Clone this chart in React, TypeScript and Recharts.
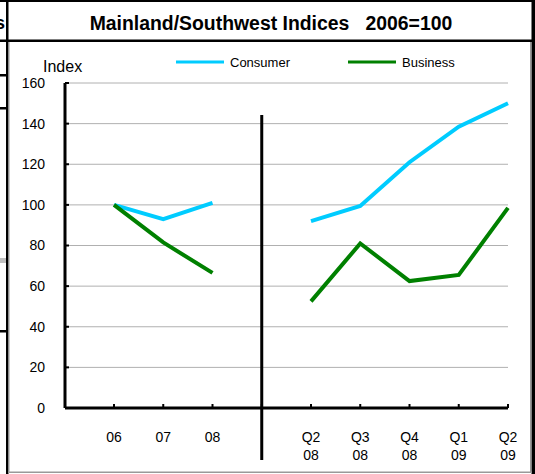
import React from 'react';
import { LineChart, Line, XAxis, YAxis, CartesianGrid, ReferenceLine } from 'recharts';

const SEP = '|';
const categories = ['06', '07', '08', SEP, 'Q2 08', 'Q3 08', 'Q4 08', 'Q1 09', 'Q2 09'];
const consumer = [100, 93, 101, null, 92, 99.5, 121, 138.5, 150];
const business = [100, 81.5, 66.5, null, 52.5, 81, 62.5, 65.5, 98.5];
const yTicks = [0, 20, 40, 60, 80, 100, 120, 140, 160];
const TITLE = 'Mainland/Southwest Indices   2006=100';
const Y_LABEL = 'Index';
const SEP_TOP = 144.2;
const SEP_BOTTOM = -25.6;

const SERIES = [
  { key: 'consumer', name: 'Consumer', color: '#00CCFF' },
  { key: 'business', name: 'Business', color: '#008000' },
];

const data = categories.map((c, i) => ({ cat: c, consumer: consumer[i], business: business[i] }));

const FONT = '"Liberation Sans", Arial, sans-serif';

const XTick = (props: any) => {
  const { x, y, payload } = props;
  if (payload.value === SEP) return <g />;
  const parts = String(payload.value).split(' ');
  return (
    <text x={x} y={y} textAnchor="middle" fontSize={14} fill="#000" fontFamily={FONT}>
      {parts.map((p, i) => (
        <tspan key={i} x={x} dy={i === 0 ? '0.35em' : 18}>{p}</tspan>
      ))}
    </text>
  );
};

const YTick = (props: any) => {
  const { x, y, payload } = props;
  return (
    <text x={x} y={y} dy="0.35em" textAnchor="end" fontSize={14} fill="#000" fontFamily={FONT}>
      {payload.value}
    </text>
  );
};

const legendPos = [
  { lineX: 176, textX: 230 },
  { lineX: 348, textX: 402 },
];

export default function App() {
  return (
    <div style={{ position: 'absolute', left: 0, top: 0, width: 535, height: 474, background: '#fff', overflow: 'hidden' }}>
      <div style={{ position: 'absolute', left: 0, top: 0 }}>
        <LineChart width={535} height={474} data={data} margin={{ top: 83, right: 27, left: 0, bottom: 16 }}>
          <CartesianGrid vertical={false} stroke="#b0b0b0" strokeWidth={1} />
          <XAxis
            dataKey="cat"
            type="category"
            height={50}
            padding={{ left: 49, right: 0 }}
            axisLine={{ stroke: '#000', strokeWidth: 3 }}
            tickLine={{ stroke: '#000', strokeWidth: 2 }}
            tickSize={-4}
            tickMargin={33}
            tick={<XTick />}
            interval={0}
          />
          <YAxis
            type="number"
            domain={[0, 160]}
            ticks={yTicks}
            width={65}
            axisLine={{ stroke: '#000', strokeWidth: 3 }}
            tickLine={{ stroke: '#000', strokeWidth: 2 }}
            tickSize={-4}
            tickMargin={24}
            tick={<YTick />}
            interval={0}
          />
          <ReferenceLine
            segment={[{ x: SEP, y: SEP_TOP }, { x: SEP, y: SEP_BOTTOM }]}
            stroke="#000"
            strokeWidth={3}
            ifOverflow="visible"
          />
          {SERIES.map((s) => (
            <Line
              key={s.key}
              dataKey={s.key}
              name={s.name}
              stroke={s.color}
              strokeWidth={4}
              dot={false}
              activeDot={false}
              connectNulls={false}
              isAnimationActive={false}
              type="linear"
            />
          ))}
        </LineChart>
      </div>
      <svg width={535} height={474} style={{ position: 'absolute', left: 0, top: 0, pointerEvents: 'none' }}>
        {/* left artifacts */}
        <text x={5} y={29} textAnchor="end" fontSize={18} fontWeight="bold" fontFamily={FONT} fill="#000">s</text>
        <rect x={0} y={74} width={7} height={2.5} fill="#000" />
        <rect x={0} y={107} width={7} height={2.5} fill="#000" />
        <rect x={0} y={258} width={7} height={5} fill="#c0c0c0" />
        <rect x={0} y={330} width={7} height={2.5} fill="#000" />
        {/* frame */}
        <rect x={0} y={0} width={535} height={2} fill="#000" />
        <rect x={0} y={39.5} width={535} height={2.5} fill="#000" />
        <rect x={6} y={0} width={2.5} height={474} fill="#000" />
        <rect x={531.5} y={0} width={3.5} height={474} fill="#000" />
        <rect x={8.5} y={42} width={1} height={431} fill="#999" />
        <rect x={530} y={42} width={1} height={431} fill="#999" />
        <rect x={8} y={471.5} width={524} height={1.5} fill="#999" />
        {/* title */}
        <text x={271} y={29.5} textAnchor="middle" fontSize={19.4} fontWeight="bold" fontFamily={FONT} fill="#000" style={{ whiteSpace: 'pre' }}>
          {TITLE}
        </text>
        {/* y label */}
        <text x={43} y={72} fontSize={16} fontFamily={FONT} fill="#000">{Y_LABEL}</text>
        {/* legend */}
        {SERIES.map((s, i) => (
          <g key={s.key}>
            <line x1={legendPos[i].lineX} x2={legendPos[i].lineX + 48} y1={62} y2={62} stroke={s.color} strokeWidth={3} />
            <text x={legendPos[i].textX} y={66.5} fontSize={13} fontFamily={FONT} fill="#000">{s.name}</text>
          </g>
        ))}
      </svg>
    </div>
  );
}
